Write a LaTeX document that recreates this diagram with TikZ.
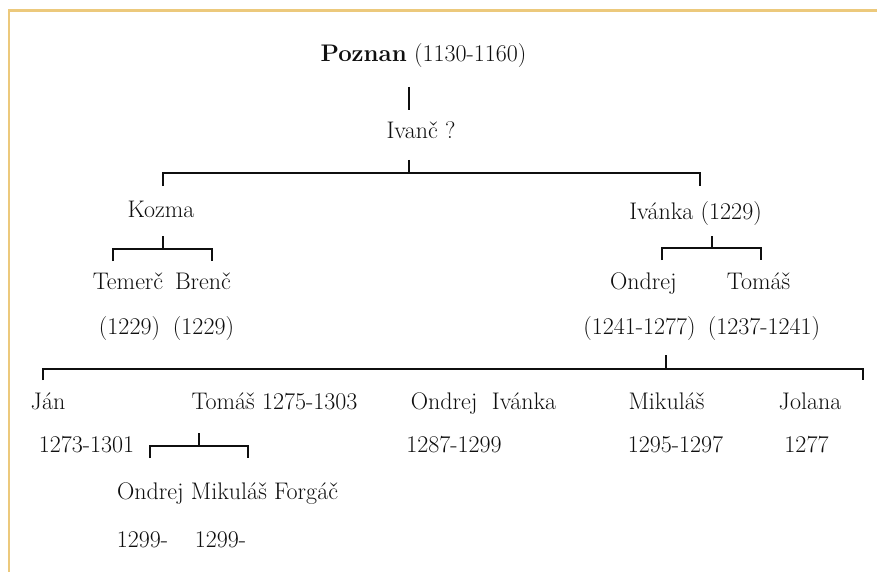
\documentclass[tikz,border=0pt]{standalone}
\usepackage{fontspec}
\definecolor{frame}{RGB}{236,201,124}
\definecolor{ink}{RGB}{15,15,15}
\begin{document}
\begin{tikzpicture}[x=1pt,y=-1pt,
  lbl/.style={anchor=base,inner sep=0pt,text=ink,font=\fontsize{24}{28}\selectfont},
  link/.style={draw=ink,line width=1.8pt}]
\useasboundingbox (0,0) rectangle (877,572);
\fill[white] (0,0) rectangle (877,572);
% frame
\draw[frame,line width=2.8pt] (9,572) -- (9,10.5) -- (877,10.5);
% nodes
\node[lbl] (poznan) at (423.5,62) {\textbf{Poznan} (1130-1160)};
\node[lbl] (ivanc) at (421,139) {Ivanč ?};
\node[lbl] (kozma) at (161,217) {Kozma};
\node[lbl] (ivanka) at (695.5,219) {Ivánka (1229)};
\node[lbl] (temerc) at (128,289) {Temerč};
\node[lbl] (brenc) at (203,289) {Brenč};
\node[lbl] (d1) at (129.5,334) {(1229)};
\node[lbl] (d2) at (203.5,334) {(1229)};
\node[lbl] (ondrej) at (643.5,289) {Ondrej};
\node[lbl] (tomas) at (758.5,289) {Tomáš};
\node[lbl] (d3) at (639.5,334) {(1241-1277)};
\node[lbl] (d4) at (764,334) {(1237-1241)};
\node[lbl] (jan) at (48,409) {Ján};
\node[lbl] (tomasb) at (274.5,409) {Tomáš 1275-1303};
\node[lbl] (d5) at (86.5,452) {1273-1301};
\node[lbl] (ondrejb) at (483.5,409) {Ondrej\ \ Ivánka};
\node[lbl] (d6) at (454,452) {1287-1299};
\node[lbl] (mikulas) at (666.5,409) {Mikuláš};
\node[lbl] (d7) at (675.5,452) {1295-1297};
\node[lbl] (jolana) at (810,409) {Jolana};
\node[lbl] (d8) at (806.5,452) {1277};
\node[lbl] (omf) at (227.5,499) {Ondrej Mikuláš Forgáč};
\node[lbl] (d9) at (142.5,547) {1299-};
\node[lbl] (d10) at (220.5,547) {1299-};
% connector points
\coordinate (p1) at (409,87); \coordinate (p2) at (409,110);
\coordinate (a0) at (409,160); \coordinate (a1) at (409,173);
\coordinate (aL) at (163,173); \coordinate (aLd) at (163,186);
\coordinate (aR) at (700,173); \coordinate (aRd) at (700,186);
\coordinate (k0) at (163,236); \coordinate (k1) at (163,249);
\coordinate (kL) at (113,249); \coordinate (kLd) at (113,261);
\coordinate (kR) at (212,249); \coordinate (kRd) at (212,261);
\coordinate (i0) at (712,236); \coordinate (i1) at (712,248);
\coordinate (iL) at (662,248); \coordinate (iLd) at (662,260);
\coordinate (iR) at (761,248); \coordinate (iRd) at (761,260);
\coordinate (b0) at (666,355); \coordinate (b1) at (666,369);
\coordinate (bL) at (43,369); \coordinate (bLd) at (43,380);
\coordinate (bR) at (863,369); \coordinate (bRd) at (863,380);
\coordinate (s0) at (199,433); \coordinate (s1) at (199,446);
\coordinate (sL) at (150,446); \coordinate (sLd) at (150,458);
\coordinate (sR) at (248,446); \coordinate (sRd) at (248,458);
% connectors
\draw[link] (p1) -- (p2);
\draw[link] (a0) -- (a1);
\draw[link] (aLd) -- (aL) -- (aR) -- (aRd);
\draw[link] (k0) -- (k1);
\draw[link] (kLd) -- (kL) -- (kR) -- (kRd);
\draw[link] (i0) -- (i1);
\draw[link] (iLd) -- (iL) -- (iR) -- (iRd);
\draw[link] (b0) -- (b1);
\draw[link] (bLd) -- (bL) -- (bR) -- (bRd);
\draw[link] (s0) -- (s1);
\draw[link] (sLd) -- (sL) -- (sR) -- (sRd);
\end{tikzpicture}
\end{document}
